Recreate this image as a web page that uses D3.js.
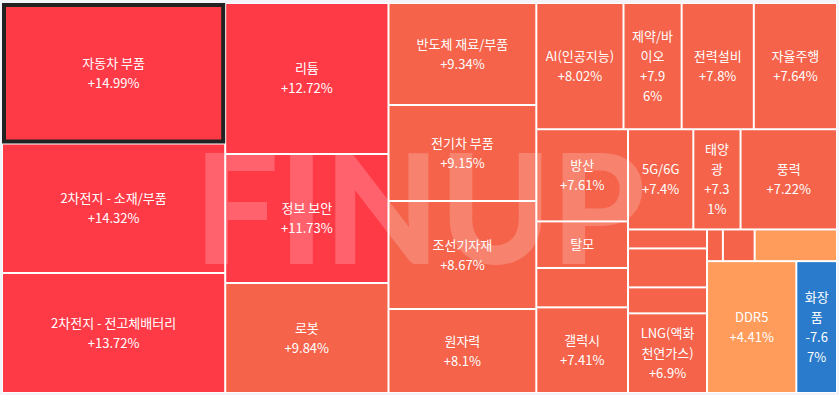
<!DOCTYPE html>
<html>
<head>
<meta charset="utf-8">
<script src="https://cdn.jsdelivr.net/npm/d3@7"></script>
<style>
  body { margin: 0; background: #f3f4f9; }
  svg { display: block; }
  .cellText { font-family: 'Noto Sans CJK KR', 'Noto Sans', sans-serif; font-size: 13px; fill: #fff; }
</style>
</head>
<body>
<div id="treemap"></div>
<script>
// theme names, daily change (%) and block size, in layout order
let themeNames = ['자동차 부품', '2차전지 - 소재/부품', '2차전지 - 전고체배터리', '리튬', '정보 보안', '로봇',
    '반도체 재료/부품', '전기차 부품', '조선기자재', '원자력', 'AI(인공지능)', '제약/바이오', '전력설비', '자율주행',
    '방산', '탈모', '', '갤럭시', '5G/6G', '태양광', '풍력', '', '', '', 'LNG(액화천연가스)', '', '', '', 'DDR5', '화장품'];
let themeChanges = [14.99, 14.32, 13.72, 12.72, 11.73, 9.84,
    9.34, 9.15, 8.67, 8.1, 8.02, 7.96, 7.8, 7.64,
    7.61, 7.55, 7.5, 7.41, 7.4, 7.31, 7.22, 7.2, 7.1, 7.0, 6.9, 6.5, 6.0, 4.6, 4.41, -7.67];
let themeSizes = [31402, 28943, 26820, 24689, 21092, 17985,
    15096, 14208, 15984, 12432, 11023, 7349, 9122, 10516,
    8464, 4278, 3616, 7866, 6552, 4738, 9677, 1502, 3080, 2056, 6300, 504, 1008, 2615, 11790, 5371];
let selectedTheme = '자동차 부품';

let svgWidth = 839;
let svgHeight = 395;
let margin = { top: 3, left: 2 };
let width = 835;
let height = 390;

let svg = d3.select('#treemap')
    .append('svg')
    .attr('width', svgWidth)
    .attr('height', svgHeight);

let chartGroup = svg.append('g')
    .attr('transform', `translate(${margin.left}, ${margin.top})`);

// colour by change bucket
let colorScale = d3.scaleThreshold()
    .domain([0, 5, 10])
    .range(['#2a7bcb', '#ff9c5b', '#f5634a', '#ff3a47']);

let data = themeNames.map((name, i) => ({ name: name, change: themeChanges[i], size: themeSizes[i] }));

let root = d3.hierarchy({ children: data }).sum(d => d.size || 0);
d3.treemap()
    .size([width, height])
    .tile(d3.treemapSquarify)(root);

let leaves = root.leaves();

chartGroup.append('rect')
    .attr('width', width)
    .attr('height', height)
    .attr('fill', '#fff');

chartGroup.selectAll('.cell')
    .data(leaves)
    .enter()
    .append('rect')
    .classed('cell', true)
    .attr('x', d => d.x0 + 1)
    .attr('y', d => d.y0 + 1)
    .attr('width', d => d.x1 - d.x0 - 2)
    .attr('height', d => d.y1 - d.y0 - 2)
    .attr('fill', d => colorScale(d.data.change));

// watermark
chartGroup.append('text')
    .attr('x', 192)
    .attr('y', 261)
    .attr('textLength', 451)
    .attr('lengthAdjust', 'spacingAndGlyphs')
    .attr('font-family', "Lato, Roboto, 'DejaVu Sans', sans-serif")
    .attr('font-weight', 900)
    .attr('font-size', 152)
    .attr('fill', '#fff')
    .attr('opacity', 0.2)
    .text('FINUP');

// selected block
let selected = leaves.find(d => d.data.name === selectedTheme);
chartGroup.append('rect')
    .attr('x', selected.x0 + 2)
    .attr('y', selected.y0 + 2)
    .attr('width', selected.x1 - selected.x0 - 4)
    .attr('height', selected.y1 - selected.y0 - 4)
    .attr('fill', 'none')
    .attr('stroke', '#222')
    .attr('stroke-width', 4);

// measuring helper for wrapping
let measurer = svg.append('text').classed('cellText', true).attr('opacity', 0);
function textWidth(str) {
    measurer.text(str);
    return measurer.node().getComputedTextLength();
}
function wrap(str, avail) {
    let lines = [];
    let cur = '';
    for (let ch of str) {
        let test = cur + ch;
        if (cur && textWidth(test) > avail) {
            lines.push(cur.trim());
            cur = ch === ' ' ? '' : ch;
        } else {
            cur = test;
        }
    }
    if (cur.trim()) lines.push(cur.trim());
    return lines;
}

let lineHeight = 20;
leaves.forEach(function (d) {
    if (!d.data.name) return;
    let w = d.x1 - d.x0;
    let h = d.y1 - d.y0;
    let pct = (d.data.change > 0 ? '+' : '') + d.data.change + '%';
    let nameLines = wrap(d.data.name, w - 14);
    // percent that does not fit is cut after 4 characters
    let pctLines = textWidth(pct) > w - 18 ? [pct.slice(0, 4), pct.slice(4)] : [pct];
    let lines = nameLines.concat(pctLines);
    if (lines.length * lineHeight > h - 8) lines = nameLines;
    if (lines.length * lineHeight > h - 8) return;

    let cx = (d.x0 + d.x1) / 2;
    let cy = (d.y0 + d.y1) / 2;
    let label = chartGroup.append('text')
        .classed('cellText', true)
        .attr('text-anchor', 'middle');
    lines.forEach(function (line, i) {
        label.append('tspan')
            .attr('x', cx)
            .attr('y', cy + (i - (lines.length - 1) / 2) * lineHeight)
            .attr('dy', '0.35em')
            .text(line);
    });
});
measurer.remove();
</script>
</body>
</html>
